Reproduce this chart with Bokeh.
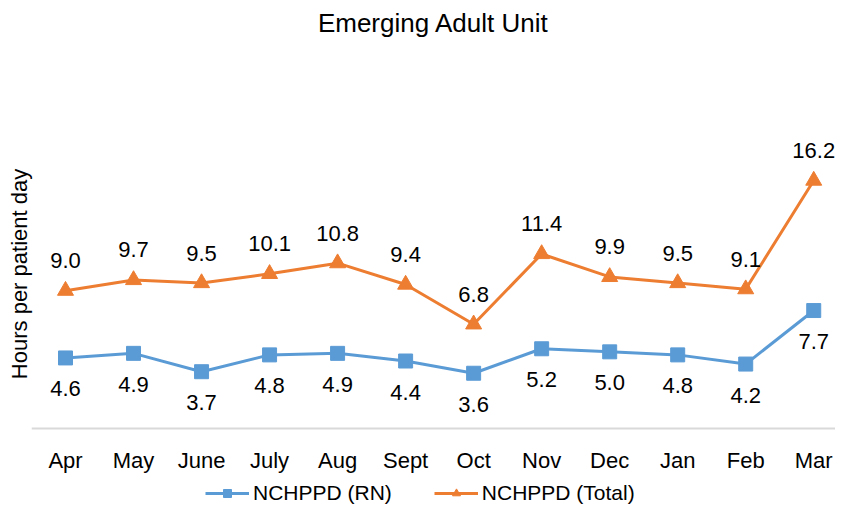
from bokeh.plotting import figure
from bokeh.models import ColumnDataSource, Range1d, FixedTicker, LabelSet, Legend, LegendItem
from bokeh.core.properties import value
from bokeh.embed import file_html
from bokeh.resources import INLINE

months = ["Apr", "May", "June", "July", "Aug", "Sept", "Oct", "Nov", "Dec", "Jan", "Feb", "Mar"]
rn = [4.6, 4.9, 3.7, 4.8, 4.9, 4.4, 3.6, 5.2, 5.0, 4.8, 4.2, 7.7]
total = [9.0, 9.7, 9.5, 10.1, 10.8, 9.4, 6.8, 11.4, 9.9, 9.5, 9.1, 16.2]

BLUE = "#5B9BD5"
ORANGE = "#ED7D31"

xs = list(range(len(months)))
src = ColumnDataSource(dict(
    x=xs, rn=rn, total=total,
    rn_lbl=[f"{v:.1f}" for v in rn],
    tot_lbl=[f"{v:.1f}" for v in total],
))

p = figure(width=835, height=505, output_backend="svg", toolbar_location=None,
           x_range=Range1d(-0.5, 11.32), y_range=Range1d(-5.05, 25.23),
           min_border_left=31, min_border_right=0, min_border_top=40, min_border_bottom=0)

p.title.text = "Emerging Adult Unit"
p.title.align = "center"
p.title.text_font = "Liberation Sans"
p.title.text_font_size = "26px"
p.title.text_font_style = "normal"
p.title.text_color = "#000000"

p.xgrid.visible = False
p.ygrid.visible = False
p.outline_line_color = None

p.yaxis.ticker = FixedTicker(ticks=[])
p.yaxis.axis_line_color = None
p.yaxis.major_tick_line_color = None
p.yaxis.minor_tick_line_color = None
p.yaxis.axis_label = "Hours per patient day"
p.yaxis.axis_label_text_font = "Liberation Sans"
p.yaxis.axis_label_text_font_size = "22px"
p.yaxis.axis_label_text_font_style = "normal"
p.yaxis.axis_label_text_color = "#000000"
p.yaxis.axis_label_standoff = 0

p.xaxis.fixed_location = 0
p.xaxis.ticker = FixedTicker(ticks=xs)
p.xaxis.major_label_overrides = {i: m for i, m in zip(xs, months)}
p.xaxis.axis_line_color = "#D9D9D9"
p.xaxis.axis_line_width = 2
p.xaxis.major_tick_line_color = None
p.xaxis.minor_tick_line_color = None
p.xaxis.major_label_standoff = 14
p.xaxis.major_label_text_font = "Liberation Sans"
p.xaxis.major_label_text_font_size = "22px"
p.xaxis.major_label_text_color = "#000000"

r1 = p.line("x", "rn", source=src, line_color=BLUE, line_width=3)
s1 = p.scatter("x", "rn", source=src, marker="square", size=14, color=BLUE)
r2 = p.line("x", "total", source=src, line_color=ORANGE, line_width=3)
s2 = p.scatter("x", "total", source=src, marker="triangle", size=16, color=ORANGE)

p.add_layout(LabelSet(x="x", y="rn", text="rn_lbl", source=src, y_offset=-31,
                      text_align="center", text_baseline="middle",
                      text_font=value("Liberation Sans"), text_font_size="22px",
                      text_color="#000000"))
p.add_layout(LabelSet(x="x", y="total", text="tot_lbl", source=src, y_offset=30,
                      text_align="center", text_baseline="middle",
                      text_font=value("Liberation Sans"), text_font_size="22px",
                      text_color="#000000"))

legend = Legend(items=[LegendItem(label="NCHPPD (RN)", renderers=[r1, s1]),
                       LegendItem(label="NCHPPD (Total)", renderers=[r2, s2])],
                orientation="horizontal", location=(174, 0),
                label_text_font="Liberation Sans", label_text_font_size="21px",
                label_text_color="#000000", label_standoff=4,
                border_line_color=None, background_fill_alpha=0,
                glyph_width=44, spacing=42, margin=0, padding=0)
p.add_layout(legend, "center")

open("out.html", "w").write(file_html(p, INLINE))
